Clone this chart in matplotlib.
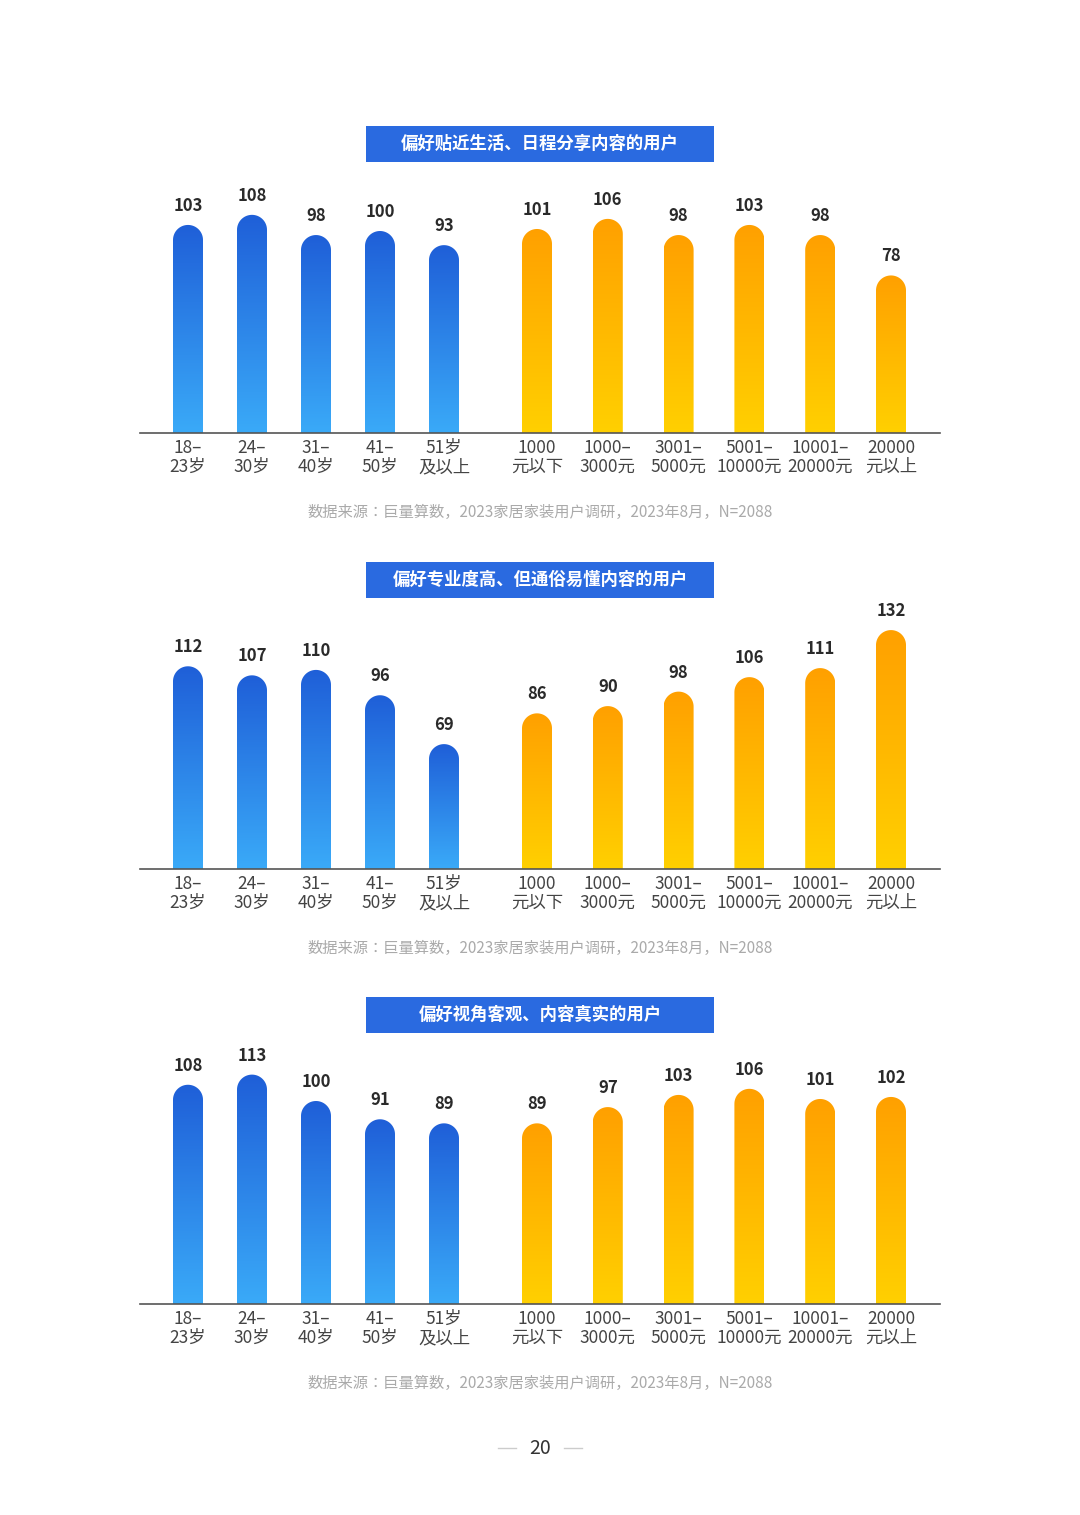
import matplotlib

matplotlib.use("Agg")
import matplotlib.pyplot as plt  # noqa: E402
import numpy as np  # noqa: E402
from matplotlib.path import Path  # noqa: E402
from matplotlib.colors import LinearSegmentedColormap  # noqa: E402
from matplotlib.patches import Rectangle  # noqa: E402

plt.rcParams["font.family"] = ["Noto Sans CJK JP", "Noto Sans CJK SC", "DejaVu Sans"]

W, H = 1080, 1515

age_labels = ["18–\n23岁", "24–\n30岁", "31–\n40岁", "41–\n50岁", "51岁\n及以上"]
income_labels = ["1000\n元以下", "1000–\n3000元", "3001–\n5000元", "5001–\n10000元",
                 "10001–\n20000元", "20000\n元以上"]

titles = ["偏好贴近生活、日程分享内容的用户",
          "偏好专业度高、但通俗易懂内容的用户",
          "偏好视角客观、内容真实的用户"]

age_values = [
    [103, 108, 98, 100, 93],
    [112, 107, 110, 96, 69],
    [108, 113, 100, 91, 89],
]
income_values = [
    [101, 106, 98, 103, 98, 78],
    [86, 90, 98, 106, 111, 132],
    [89, 97, 103, 106, 101, 102],
]

source = "数据来源：巨量算数，2023家居家装用户调研，2023年8月，N=2088"

# layout (pixels)
baselines = [433, 869, 1304]
px_per_unit = [2.02, 1.81, 2.03]
title_y = [144, 580, 1015]
age_x = [188 + 64 * i for i in range(5)]
income_x = [537 + 70.8 * j for j in range(6)]
bar_half = 15

blue_cmap = LinearSegmentedColormap.from_list("b", ["#3aaaf8", "#1f5fd8"])
orange_cmap = LinearSegmentedColormap.from_list("o", ["#ffd000", "#ffa000"])


def rounded_bar(ax, x, h, scale, cmap):
    ry = bar_half / scale
    t = np.linspace(0, np.pi, 40)
    top = [(x + bar_half * np.cos(a), h - ry + ry * np.sin(a)) for a in t]
    verts = [(x + bar_half, 0)] + top + [(x - bar_half, 0), (x + bar_half, 0)]
    codes = [Path.MOVETO] + [Path.LINETO] * (len(verts) - 2) + [Path.CLOSEPOLY]
    path = Path(verts, codes)
    grad = np.linspace(0, 1, 256).reshape(-1, 1)
    im = ax.imshow(grad, cmap=cmap, origin="lower", aspect="auto",
                   extent=(x - bar_half, x + bar_half, 0, h), zorder=2)
    im.set_clip_path(path, transform=ax.transData)
    ax.text(x, h + 19 / scale, str(h), ha="center", va="center",
            fontsize=12, fontweight="heavy", color="#2a2a2a")


fig = plt.figure(figsize=(W / 100, H / 100), dpi=100)

for k in range(3):
    ax = fig.add_axes([140 / W, 1 - baselines[k] / H, 800 / W, 270 / H])
    ax.set_xlim(140, 940)
    ax.set_ylim(0, 270 / px_per_unit[k])
    for x, v in zip(age_x, age_values[k]):
        rounded_bar(ax, x, v, px_per_unit[k], blue_cmap)
    for x, v in zip(income_x, income_values[k]):
        rounded_bar(ax, x, v, px_per_unit[k], orange_cmap)
    for s in ["top", "left", "right"]:
        ax.spines[s].set_visible(False)
    ax.spines["bottom"].set_color("#555555")
    ax.spines["bottom"].set_linewidth(1.2)
    ax.set_yticks([])
    ax.set_xticks(age_x + income_x)
    ax.set_xticklabels(age_labels + income_labels, fontsize=12.5, color="#444444",
                       linespacing=1.1)
    ax.tick_params(axis="x", length=0, pad=4)
    ax.patch.set_alpha(0)

    fig.add_artist(Rectangle((366 / W, 1 - (title_y[k] + 18) / H), 348 / W, 36 / H,
                             transform=fig.transFigure, fc="#2a6ae0", ec="none"))
    fig.text(540 / W, 1 - title_y[k] / H, titles[k], ha="center", va="center",
             fontsize=12.5, fontweight="bold", color="white")
    fig.text(540 / W, 1 - (baselines[k] + 79) / H, source, ha="center", va="center",
             fontsize=11, color="#aaaaaa")

fig.text(540 / W, 1 - 1448 / H, "20", ha="center", va="center", fontsize=14, color="#333333")
fig.add_artist(plt.Line2D([498 / W, 516 / W], [1 - 1448 / H] * 2, color="#cccccc", lw=1))
fig.add_artist(plt.Line2D([564 / W, 582 / W], [1 - 1448 / H] * 2, color="#cccccc", lw=1))

fig.savefig("out.png", dpi=100, facecolor="white")
